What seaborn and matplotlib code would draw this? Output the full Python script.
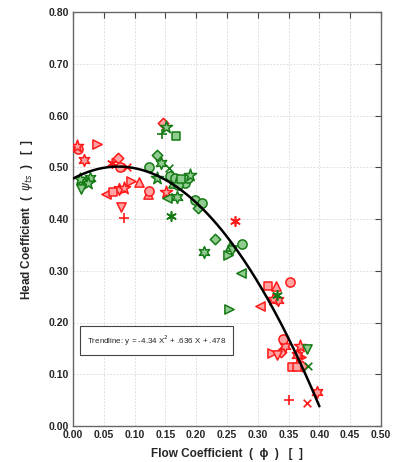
import numpy as np
import pandas as pd
import matplotlib
matplotlib.use("Agg")
import matplotlib.pyplot as plt
import seaborn as sns

# ---- data ----
red_phi = [0.008, 0.007, 0.018, 0.039, 0.063, 0.073, 0.076, 0.088, 0.054, 0.065,
           0.075, 0.083, 0.094, 0.107, 0.078, 0.083, 0.123, 0.122, 0.151, 0.146,
           0.263, 0.317, 0.330, 0.352, 0.325, 0.333, 0.304, 0.341, 0.323, 0.331,
           0.338, 0.344, 0.368, 0.366, 0.370, 0.364, 0.355, 0.363, 0.372, 0.396,
           0.350, 0.380]
red_psi = [0.535, 0.541, 0.514, 0.545, 0.508, 0.518, 0.500, 0.500, 0.448, 0.452,
           0.458, 0.460, 0.473, 0.471, 0.423, 0.402, 0.454, 0.448, 0.452, 0.585,
           0.396, 0.270, 0.270, 0.278, 0.245, 0.243, 0.232, 0.168, 0.141, 0.137,
           0.143, 0.155, 0.155, 0.143, 0.133, 0.137, 0.114, 0.114, 0.116, 0.066,
           0.050, 0.044]
red_mk = ['o', 'p', 'h', '>', 'a', 'd', 'o', 'x', '<', 's',
          'h', 'p', '>', '^', 'v', '+', 'o', '^', 'p', 'd',
          'a', 's', '^', 'o', 'p', 'h', '<', 'o', '>', 'v',
          'd', 'h', 'p', '^', '>', 'h', 's', 's', 'd', 'h',
          '+', 'x']

green_phi = [0.011, 0.016, 0.028, 0.013, 0.019, 0.025, 0.144, 0.151, 0.167, 0.136,
             0.143, 0.123, 0.156, 0.136, 0.157, 0.166, 0.174, 0.182, 0.170, 0.187,
             0.190, 0.153, 0.169, 0.159, 0.198, 0.209, 0.203, 0.230, 0.213, 0.255,
             0.274, 0.252, 0.258, 0.272, 0.253, 0.331, 0.380, 0.382, 0.175, 0.162]
green_psi = [0.477, 0.472, 0.479, 0.458, 0.466, 0.470, 0.564, 0.578, 0.560, 0.524,
             0.508, 0.500, 0.499, 0.479, 0.483, 0.479, 0.475, 0.470, 0.466, 0.479,
             0.485, 0.441, 0.443, 0.406, 0.437, 0.431, 0.421, 0.361, 0.336, 0.348,
             0.351, 0.330, 0.340, 0.296, 0.226, 0.253, 0.149, 0.116, 0.478, 0.470]
green_mk = ['p', 'd', 'h', 'v', '>', 'p', '+', 'p', 's', 'd',
            'h', 'o', 'x', 'p', 'o', 'o', 'o', 'o', 'o', 'o',
            'p', '<', 'h', 'a', 'o', 'o', 'd', 'd', 'h', '^',
            'o', '>', 'v', '<', '>', 'a', 'v', 'x', 's', '^']

trend_coef = [-4.34, 0.636, 0.478]
x_ticks = [0.00, 0.05, 0.10, 0.15, 0.20, 0.25, 0.30, 0.35, 0.40, 0.45, 0.50]
y_ticks = [0.00, 0.10, 0.20, 0.30, 0.40, 0.50, 0.60, 0.70, 0.80]

# ---- styling ----
sns.set_style("white")
plt.rcParams['font.family'] = ['Liberation Sans', 'DejaVu Sans']

marker_map = {'o': 'o', 's': 's', '^': '^', 'v': 'v', '<': '<', '>': '>',
              'd': 'D', 'p': '*', 'h': (6, 1, 0), '+': '+', 'x': 'x', 'a': (6, 2, 0)}
size_map = {'o': 44, 's': 38, '^': 44, 'v': 44, '<': 44, '>': 44, 'd': 28,
            'p': 85, 'h': 72, '+': 45, 'x': 30, 'a': 45}
line_markers = {'+', 'x', 'a'}

groups = {
    'red': dict(phi=red_phi, psi=red_psi, mk=red_mk, edge='#ff1a1a', face='#ffa3a3'),
    'green': dict(phi=green_phi, psi=green_psi, mk=green_mk, edge='#167a16', face='#90cc90'),
}

fig = plt.figure(figsize=(4.01, 4.62), dpi=100)
ax = fig.add_axes([73 / 401, 36 / 462, 308 / 401, 414 / 462])

for gname, g in groups.items():
    df = pd.DataFrame({'phi': g['phi'], 'psi': g['psi'], 'mk': g['mk']})
    for mk, sub in df.groupby('mk'):
        if mk in line_markers:
            sns.scatterplot(data=sub, x='phi', y='psi', ax=ax, marker=marker_map[mk],
                            s=size_map[mk], color=g['edge'], linewidth=1.2, zorder=3)
        else:
            sns.scatterplot(data=sub, x='phi', y='psi', ax=ax, marker=marker_map[mk],
                            s=size_map[mk], facecolor=g['face'], edgecolor=g['edge'],
                            linewidth=1.1, zorder=3)

xs = np.linspace(0, 0.4, 200)
ys = np.polyval(trend_coef, xs)
sns.lineplot(x=xs, y=ys, ax=ax, color='black', linewidth=1.8, zorder=4)

ax.set_xlim(0, 0.5)
ax.set_ylim(0, 0.8)
ax.set_xticks(x_ticks)
ax.set_yticks(y_ticks)
ax.set_xticklabels([f"{v:.2f}" for v in x_ticks], fontsize=7.5, fontweight='bold')
ax.set_yticklabels([f"{v:.2f}" for v in y_ticks], fontsize=7.5, fontweight='bold')
ax.grid(True, color='#d6d6d6', linestyle=(0, (2, 2)), linewidth=0.6)
ax.tick_params(axis='both', direction='in', length=4, width=0.8, color='#444444',
               top=True, right=True, pad=3)
for s in ax.spines.values():
    s.set_color('#666666')
    s.set_linewidth(1.0)

ax.set_xlabel('Flow Coefficient  (  \u03d5  )   [  ]', fontsize=8.5, fontweight='bold', labelpad=6)
ax.set_ylabel('Head Coefficient  (  $\\psi_{ts}$  )   [  ]', fontsize=8.5, fontweight='bold', labelpad=10)

ax.text(0.0225, 0.165, 'Trendline: y = -4.34 X$^2$ + .636 X + .478', fontsize=5.8,
        va='center', ha='left', zorder=5,
        bbox=dict(boxstyle='square,pad=0.9', facecolor='white', edgecolor='#444444', linewidth=0.8))

fig.savefig('out.png', dpi=100)
